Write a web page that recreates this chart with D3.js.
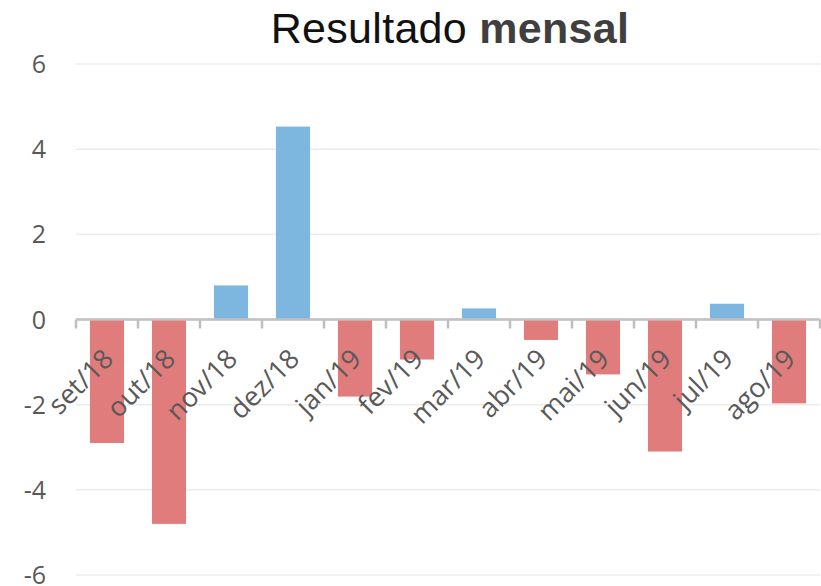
<!DOCTYPE html>
<html>
<head>
    <meta charset="utf-8">
    <script src="https://d3js.org/d3.v7.min.js"></script>
    <style>
        body { margin: 0; background: #fff; }
    </style>
</head>
<body>
    <svg width="821" height="586"></svg>

    <script>
        // dados do gráfico
        var months = ['set/18', 'out/18', 'nov/18', 'dez/18', 'jan/19', 'fev/19',
                      'mar/19', 'abr/19', 'mai/19', 'jun/19', 'jul/19', 'ago/19'];
        var values = [-2.9, -4.8, 0.8, 4.53, -1.81, -0.94, 0.26, -0.48, -1.29, -3.1, 0.37, -1.97];
        var yTicks = [-6, -4, -2, 0, 2, 4, 6];

        var svg = d3.select("svg");
        var plotLeft = 76, plotRight = 820, plotTop = 64, plotBottom = 575;

        var x = d3.scaleBand()
            .domain(months)
            .range([plotLeft, plotRight])
            .paddingInner(0.45)
            .paddingOuter(0.225);

        var y = d3.scaleLinear()
            .domain([-6, 6])
            .range([plotBottom, plotTop]);

        // linhas de grade
        svg.append("g")
            .selectAll("line")
            .data(yTicks)
            .enter().append("line")
            .attr("x1", plotLeft).attr("x2", plotRight)
            .attr("y1", function(d) { return y(d); })
            .attr("y2", function(d) { return y(d); })
            .attr("stroke", "#ececec")
            .attr("stroke-width", 1.5);

        // rótulos do eixo y
        svg.append("g")
            .selectAll("text")
            .data(yTicks)
            .enter().append("text")
            .attr("x", 46)
            .attr("y", function(d) { return y(d); })
            .attr("dy", "0.36em")
            .attr("text-anchor", "end")
            .attr("font-family", "'Open Sans', sans-serif")
            .attr("font-size", 25)
            .attr("fill", "#595959")
            .text(function(d) { return d; });

        // barras
        svg.append("g")
            .selectAll("rect")
            .data(values)
            .enter().append("rect")
            .attr("x", function(d, i) { return x(months[i]); })
            .attr("width", x.bandwidth())
            .attr("y", function(d) { return d >= 0 ? y(d) : y(0); })
            .attr("height", function(d) { return Math.abs(y(d) - y(0)); })
            .attr("fill", function(d) { return d >= 0 ? "#7db6de" : "#e07c7c"; });

        // eixo x
        var step = x.step();
        var tickX = d3.range(months.length + 1).map(function(i) { return plotLeft + i * step; });
        svg.append("line")
            .attr("x1", plotLeft).attr("x2", plotRight)
            .attr("y1", y(0)).attr("y2", y(0))
            .attr("stroke", "#bfbfbf")
            .attr("stroke-width", 2.5);
        svg.append("g")
            .selectAll("line")
            .data(tickX)
            .enter().append("line")
            .attr("x1", function(d) { return d; })
            .attr("x2", function(d) { return d; })
            .attr("y1", y(0))
            .attr("y2", y(0) + 9)
            .attr("stroke", "#bfbfbf")
            .attr("stroke-width", 2.5);

        // rótulos das categorias
        svg.append("g")
            .selectAll("text")
            .data(months)
            .enter().append("text")
            .attr("transform", function(d) {
                return "translate(" + (x(d) + x.bandwidth() / 2 + 8) + "," + (y(0) + 41) + ") rotate(-45)";
            })
            .attr("text-anchor", "end")
            .attr("font-family", "'Open Sans', sans-serif")
            .attr("font-size", 27)
            .attr("fill", "#595959")
            .text(function(d) { return d; });

        // título
        var title = svg.append("text")
            .attr("x", 450)
            .attr("y", 43)
            .attr("text-anchor", "middle")
            .attr("font-family", "'Liberation Sans', Arial, sans-serif")
            .attr("font-size", 43)
            .attr("letter-spacing", 0.3);
        title.append("tspan").attr("fill", "#111").text("Resultado ");
        title.append("tspan").attr("fill", "#3f3f3f").attr("font-weight", "bold").text("mensal");
    </script>
</body>
</html>
